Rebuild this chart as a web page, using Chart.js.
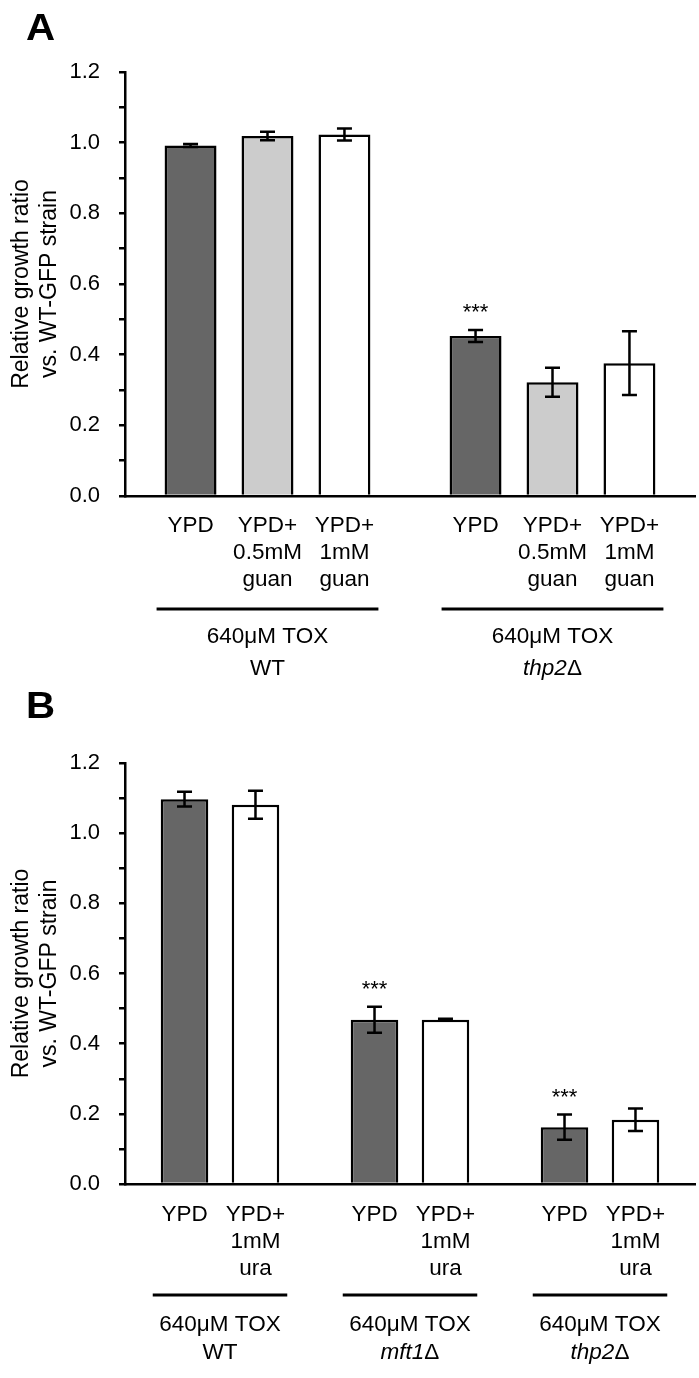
<!DOCTYPE html>
<html>
<head>
<meta charset="utf-8">
<script src="https://cdn.jsdelivr.net/npm/chart.js@4/dist/chart.umd.min.js"></script>
<style>
  html, body { margin: 0; padding: 0; background: #fff; }
  .panel { position: relative; width: 699px; height: 689px; }
</style>
</head>
<body>
<div class="panel"><canvas id="chartA"></canvas></div>
<div class="panel"><canvas id="chartB"></canvas></div>
<script>
// Panel A: guanine supplement
const groupsA = ['WT', 'thp2Δ'];
const conditionsA = [['YPD'], ['YPD+', '0.5mM', 'guan'], ['YPD+', '1mM', 'guan']];
const ypdA = [0.992, 0.453];
const ypdErrA = [0.004, 0.017];
const guan05A = [1.019, 0.322];
const guan05ErrA = [0.012, 0.041];
const guan1A = [1.023, 0.376];
const guan1ErrA = [0.017, 0.090];
const ypdStarsA = [false, true];

// Panel B: uracil supplement
const groupsB = ['WT', 'mft1Δ', 'thp2Δ'];
const conditionsB = [['YPD'], ['YPD+', '1mM', 'ura']];
const ypdB = [1.097, 0.468, 0.162];
const ypdErrB = [0.021, 0.037, 0.036];
const uraB = [1.081, 0.468, 0.183];
const uraErrB = [0.040, 0.003, 0.032];
const ypdStarsB = [false, true, true];

const treatment = '640μM TOX';
const yTitle = ['Relative growth ratio', 'vs. WT-GFP strain'];

const FONT = '"Liberation Sans", Arial, sans-serif';
const LABEL_PX = 22.5;
Chart.defaults.font.family = FONT;
Chart.defaults.font.size = 22;
Chart.defaults.color = '#000';

function drawStrain(ctx, name, x, y) {
  const parts = name === 'WT' ? [[name, '']] : [[name.slice(0, -1), 'italic '], ['Δ', '']];
  let total = 0;
  parts.forEach(([t, st]) => { ctx.font = st + LABEL_PX + 'px ' + FONT; total += ctx.measureText(t).width; });
  let cx = x - total / 2;
  ctx.textAlign = 'left';
  parts.forEach(([t, st]) => {
    ctx.font = st + LABEL_PX + 'px ' + FONT;
    ctx.fillText(t, cx, y);
    cx += ctx.measureText(t).width;
  });
}

// error bars, stars, labels under the axis, panel letter
const panelExtras = {
  id: 'panelExtras',
  afterDatasetsDraw(chart, args, opts) {
    const { ctx } = chart;
    const y = chart.scales.y;
    ctx.save();
    ctx.strokeStyle = '#000';
    ctx.fillStyle = '#000';
    ctx.lineWidth = 2.5;
    chart.data.datasets.forEach((ds, i) => {
      chart.getDatasetMeta(i).data.forEach((bar, j) => {
        const v = ds.data[j], e = ds.errors[j];
        const top = y.getPixelForValue(v + e);
        const bot = y.getPixelForValue(v - e);
        ctx.beginPath();
        ctx.moveTo(bar.x, top); ctx.lineTo(bar.x, bot);
        ctx.moveTo(bar.x - 7.5, top); ctx.lineTo(bar.x + 7.5, top);
        ctx.moveTo(bar.x - 7.5, bot); ctx.lineTo(bar.x + 7.5, bot);
        ctx.stroke();
        if (ds.stars && ds.stars[j]) {
          ctx.font = '22px ' + FONT;
          ctx.textAlign = 'center';
          ctx.textBaseline = 'alphabetic';
          ctx.fillText('***', bar.x, top - 11);
        }
      });
    });
    ctx.restore();
  },
  afterDraw(chart, args, opts) {
    const { ctx } = chart;
    const x = chart.scales.x;
    const n = chart.data.datasets.length;
    ctx.save();
    ctx.fillStyle = '#000';
    ctx.strokeStyle = '#000';
    ctx.textBaseline = 'middle';
    // condition labels under each bar
    chart.data.datasets.forEach((ds, i) => {
      chart.getDatasetMeta(i).data.forEach(bar => {
        ctx.font = LABEL_PX + 'px ' + FONT;
        ctx.textAlign = 'center';
        opts.conditions[i].forEach((line, k) => ctx.fillText(line, bar.x, opts.labelY + k * 27));
      });
    });
    // group line and group names
    chart.data.labels.forEach((name, j) => {
      const first = chart.getDatasetMeta(0).data[j];
      const last = chart.getDatasetMeta(n - 1).data[j];
      ctx.lineWidth = 3;
      ctx.beginPath();
      ctx.moveTo(first.x - first.width / 2 - 8, opts.lineY);
      ctx.lineTo(last.x + last.width / 2 + 8, opts.lineY);
      ctx.stroke();
      const cx = x.getPixelForValue(j);
      ctx.font = LABEL_PX + 'px ' + FONT;
      ctx.textAlign = 'center';
      ctx.fillText(treatment, cx, opts.groupY);
      drawStrain(ctx, name, cx, opts.groupY + opts.strainGap);
    });
    // panel letter, a little wider than plain bold
    ctx.font = 'bold 36px ' + FONT;
    ctx.textAlign = 'left';
    ctx.textBaseline = 'alphabetic';
    ctx.translate(26, opts.letterY);
    ctx.scale(1.12, 1);
    ctx.fillText(opts.letter, 0, 0);
    ctx.restore();
  }
};

function makePanel(canvas, labels, datasets, extras, pad, catPct, barPct) {
  return new Chart(canvas, {
    type: 'bar',
    data: { labels, datasets },
    options: {
      responsive: true,
      maintainAspectRatio: false,
      animation: false,
      layout: { padding: { top: pad.top, bottom: pad.bottom, left: 0, right: 4 } },
      datasets: { bar: { categoryPercentage: catPct, barPercentage: barPct, borderColor: '#000', borderWidth: 2.5 } },
      plugins: { legend: { display: false }, tooltip: { enabled: false }, panelExtras: extras },
      scales: {
        x: {
          ticks: { display: false },
          grid: { display: true, drawOnChartArea: false, drawTicks: false },
          border: { display: true, color: '#000', width: 2.5 },
          afterFit: s => { s.height = 0; }
        },
        y: {
          min: 0,
          max: 1.2,
          ticks: {
            stepSize: 0.1,
            autoSkip: false,
            maxTicksLimit: 20,
            padding: 19,
            color: '#000',
            font: { size: 22 },
            callback: v => (Math.round(v * 10) % 2 === 0 ? v.toFixed(1) : '')
          },
          grid: { drawOnChartArea: false, drawTicks: true, tickLength: 6, color: '#000', lineWidth: 2.5 },
          border: { display: true, color: '#000', width: 2.5 },
          title: { display: true, text: yTitle, font: { size: 23 }, color: '#000', padding: { top: 8, bottom: 0 } },
          afterFit: s => { s.width = 125; }
        }
      }
    },
    plugins: [panelExtras]
  });
}

makePanel(
  document.getElementById('chartA'),
  groupsA,
  [
    { label: 'YPD', data: ypdA, errors: ypdErrA, stars: ypdStarsA, backgroundColor: '#666666' },
    { label: 'YPD+0.5mM guan', data: guan05A, errors: guan05ErrA, backgroundColor: '#cccccc' },
    { label: 'YPD+1mM guan', data: guan1A, errors: guan1ErrA, backgroundColor: '#ffffff' }
  ],
  { letter: 'A', letterY: 40, conditions: conditionsA, labelY: 526, lineY: 609, groupY: 637, strainGap: 32 },
  { top: 72, bottom: 193 },
  0.81, 0.675
);

makePanel(
  document.getElementById('chartB'),
  groupsB,
  [
    { label: 'YPD', data: ypdB, errors: ypdErrB, stars: ypdStarsB, backgroundColor: '#666666' },
    { label: 'YPD+1mM ura', data: uraB, errors: uraErrB, backgroundColor: '#ffffff' }
  ],
  { letter: 'B', letterY: 29, conditions: conditionsB, labelY: 526, lineY: 606, groupY: 636, strainGap: 28 },
  { top: 74, bottom: 194 },
  0.747, 0.67
);
</script>
</body>
</html>
